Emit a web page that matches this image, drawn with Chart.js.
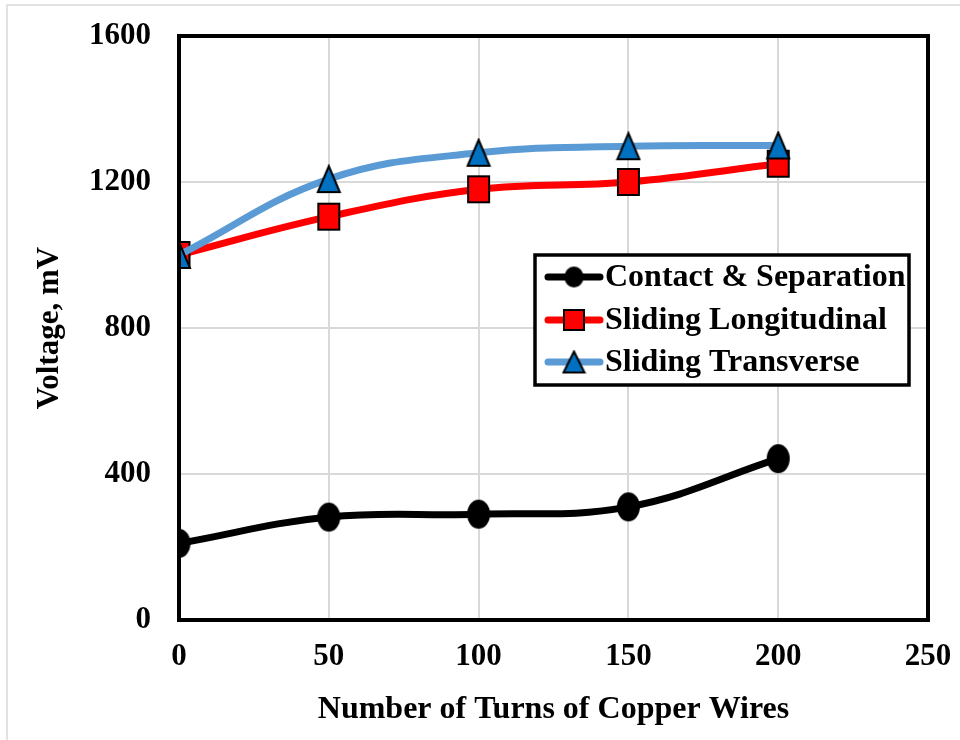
<!DOCTYPE html>
<html>
<head>
<meta charset="utf-8">
<script src="https://cdn.jsdelivr.net/npm/chart.js@4/dist/chart.umd.min.js"></script>
<style>
  html, body { margin: 0; padding: 0; background: #fff; }
  #wrap { width: 960px; height: 740px; position: relative; }
</style>
</head>
<body>
<div id="wrap"><canvas id="chart" width="960" height="740"></canvas></div>
<script>
// number of turns of copper wire
const turns = [0, 50, 100, 150, 200];
// voltage, mV
const contactSep = [210, 282, 290, 310, 442];
const slidingLong = [1000, 1105, 1180, 1200, 1250];
const slidingTrans = [1000, 1208, 1280, 1298, 1300];

const xTicks = [0, 50, 100, 150, 200, 250];
const yTicks = [0, 400, 800, 1200, 1600];

const seriesNames = ['Contact & Separation', 'Sliding Longitudinal', 'Sliding Transverse'];

const font = 'Liberation Serif, "Times New Roman", serif';

function toPoints(vals) {
  return turns.map((t, i) => ({ x: t, y: vals[i] }));
}

// markers in the original are a bit taller than wide, so draw them on small canvases
function makeMarker(shape, w, h, fill) {
  const c = document.createElement('canvas');
  c.width = w + 4;
  c.height = h + 4;
  const g = c.getContext('2d');
  g.fillStyle = fill;
  g.strokeStyle = '#000';
  g.lineWidth = 2;
  g.beginPath();
  if (shape === 'circle') {
    g.ellipse(c.width / 2, c.height / 2, w / 2, h / 2, 0, 0, Math.PI * 2);
  } else if (shape === 'rect') {
    g.rect(2, 2, w, h);
  } else {
    g.moveTo(c.width / 2, 2);
    g.lineTo(w + 2, h + 2);
    g.lineTo(2, h + 2);
    g.closePath();
  }
  g.fill();
  g.stroke();
  return c;
}

const markerCircle = makeMarker('circle', 21, 27, '#000000');
const markerSquare = makeMarker('rect', 21, 26, '#ff0000');
const markerTriangle = makeMarker('triangle', 22, 26, '#0070c0');

const legendMarkers = [
  makeMarker('circle', 17, 19, '#000000'),
  makeMarker('rect', 20, 20, '#ff0000'),
  makeMarker('triangle', 21, 21, '#0070c0')
];

// frame round the plot + legend box inside the plot
const framePlugin = {
  id: 'frame',
  beforeDraw(chart) {
    // faint outer border (top and left edges only, image is cropped)
    const ctx = chart.ctx;
    ctx.save();
    ctx.strokeStyle = '#d9d9d9';
    ctx.lineWidth = 1.5;
    ctx.beginPath();
    ctx.moveTo(7, 740);
    ctx.lineTo(7, 5);
    ctx.lineTo(960, 5);
    ctx.stroke();
    ctx.restore();
  },
  afterDraw(chart) {
    const ctx = chart.ctx;
    const a = chart.chartArea;
    ctx.save();
    ctx.strokeStyle = '#000';
    ctx.lineWidth = 4;
    ctx.strokeRect(a.left, a.top, a.right - a.left, a.bottom - a.top);

    // legend
    const bx = 535, by = 255, bw = 374, bh = 130;
    ctx.fillStyle = '#fff';
    ctx.fillRect(bx, by, bw, bh);
    ctx.lineWidth = 3.5;
    ctx.strokeRect(bx, by, bw, bh);

    const rows = [277, 320, 362];
    chart.data.datasets.forEach((ds, i) => {
      const y = rows[i];
      ctx.strokeStyle = ds.borderColor;
      ctx.lineWidth = 7;
      ctx.lineCap = 'round';
      ctx.beginPath();
      ctx.moveTo(548, y);
      ctx.lineTo(600, y);
      ctx.stroke();
      const m = legendMarkers[i];
      ctx.drawImage(m, 574 - m.width / 2, y - m.height / 2);
      ctx.fillStyle = '#000';
      ctx.font = 'bold 32px ' + font;
      ctx.textBaseline = 'middle';
      ctx.textAlign = 'left';
      ctx.fillText(seriesNames[i], 605, y + 1);
    });
    ctx.restore();
  }
};

const data = {
  datasets: [
    {
      label: seriesNames[0],
      data: toPoints(contactSep),
      borderColor: '#000000',
      borderWidth: 7,
      pointStyle: markerCircle,
      pointBackgroundColor: '#000000',
      tension: 0.4,
      order: 3
    },
    {
      label: seriesNames[1],
      data: toPoints(slidingLong),
      borderColor: '#ff0000',
      borderWidth: 7,
      pointStyle: markerSquare,
      pointBackgroundColor: '#ff0000',
      tension: 0.4,
      order: 2
    },
    {
      label: seriesNames[2],
      data: toPoints(slidingTrans),
      borderColor: '#5b9bd5',
      borderWidth: 7,
      pointStyle: markerTriangle,
      pointBackgroundColor: '#0070c0',
      tension: 0.4,
      order: 1
    }
  ]
};

const config = {
  type: 'line',
  data: data,
  options: {
    responsive: false,
    animation: false,
    layout: { padding: { left: 0, top: 36, right: 32, bottom: 0 } },
    plugins: {
      legend: { display: false },
      tooltip: { enabled: false }
    },
    scales: {
      x: {
        type: 'linear',
        min: 0,
        max: 250,
        afterBuildTicks(scale) { scale.ticks = xTicks.map(v => ({ value: v })); },
        afterFit(scale) {
          scale.height = 120;
          scale.paddingLeft = 0;
          scale.paddingRight = 0;
        },
        grid: { color: '#d9d9d9', lineWidth: 2, drawTicks: false },
        border: { display: false },
        ticks: {
          color: '#000', padding: 18,
          font: { family: font, size: 31, weight: 'bold' },
          callback: v => String(v)
        },
        title: {
          display: true,
          text: 'Number of Turns of Copper Wires',
          color: '#000',
          padding: { top: 0, bottom: 11 },
          font: { family: font, size: 32, weight: 'bold' }
        }
      },
      y: {
        type: 'linear',
        min: 0,
        max: 1600,
        afterBuildTicks(scale) { scale.ticks = yTicks.map(v => ({ value: v })); },
        afterFit(scale) {
          scale.width = 179;
          scale.paddingTop = 0;
          scale.paddingBottom = 0;
        },
        grid: { color: '#d9d9d9', lineWidth: 2, drawTicks: false },
        border: { display: false },
        ticks: {
          color: '#000', padding: 28,
          font: { family: font, size: 31, weight: 'bold' },
          callback: v => String(v)
        },
        title: {
          display: true,
          text: 'Voltage, mV',
          color: '#000',
          padding: { top: 31, bottom: 0 },
          font: { family: font, size: 31, weight: 'bold' }
        }
      }
    }
  },
  plugins: [framePlugin]
};

const chart = new Chart(document.getElementById('chart'), config);
</script>
</body>
</html>
